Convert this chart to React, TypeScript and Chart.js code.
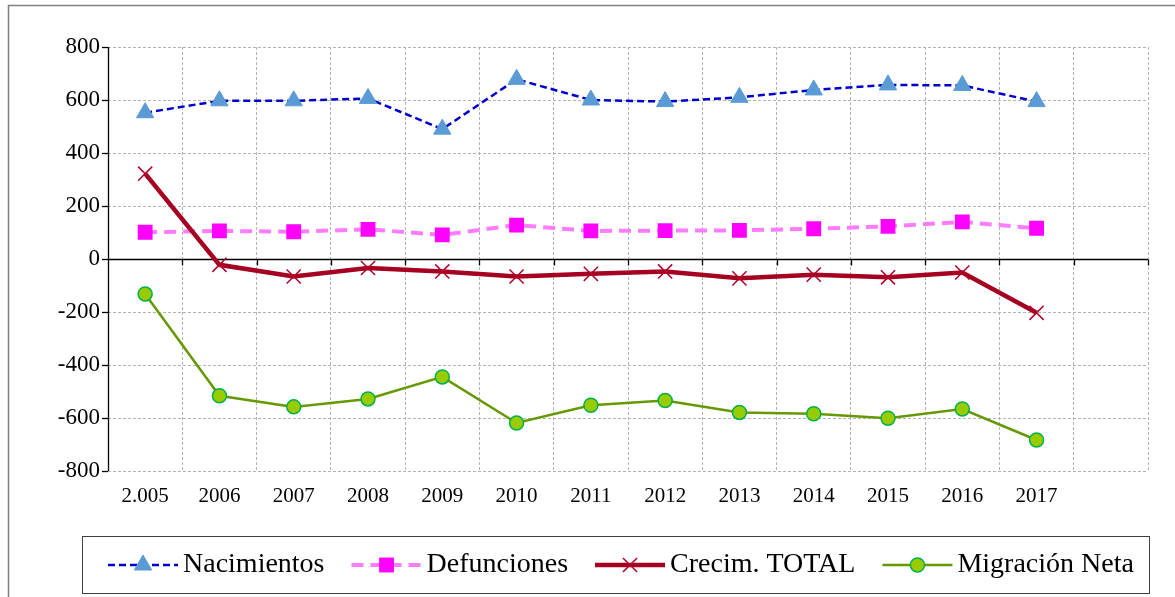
import React, { useEffect, useRef } from "react";
import { Chart, registerables } from "chart.js";
import { drawPoint } from "chart.js/helpers";

Chart.register(...registerables);

const years = ["2.005", "2006", "2007", "2008", "2009", "2010", "2011", "2012", "2013", "2014", "2015", "2016", "2017", ""];
const nacimientos = [552, 597, 597, 606, 490, 678, 600, 594, 610, 638, 657, 655, 594];
const defunciones = [101, 106, 103, 112, 91, 128, 106, 107, 108, 114, 123, 140, 116];
const crecimTotal = [322, -22, -66, -34, -47, -66, -56, -47, -73, -59, -69, -51, -203];
const migracionNeta = [-132, -516, -558, -528, -445, -619, -552, -534, -579, -584, -601, -566, -683];
const seriesNames = ["Nacimientos", "Defunciones", "Crecim. TOTAL", "Migración Neta"];
const yMin = -800;
const yMax = 800;
const yStep = 200;

const SERIF = '"Liberation Serif", "Times New Roman", serif';
const GRID = "#b3b3b3";

const decorPlugin = {
  id: "decor",
  beforeDatasetsDraw(chart: any) {
    const { ctx, chartArea: a, scales } = chart;
    const x = scales.x;
    const y = scales.y;
    const y0 = Math.round(y.getPixelForValue(0)) + 0.5;
    ctx.save();
    ctx.setLineDash([]);
    ctx.strokeStyle = "#000";
    ctx.lineWidth = 1.3;
    ctx.beginPath();
    ctx.moveTo(a.left, y0);
    ctx.lineTo(a.right, y0);
    const n = x.ticks.length;
    for (let i = 1; i <= n; i++) {
      const px = Math.round(x.getPixelForValue(i - 0.5)) + 0.5;
      ctx.moveTo(px, y0);
      ctx.lineTo(px, y0 + 6);
    }
    ctx.stroke();
    ctx.beginPath();
    const lx = Math.round(a.left) + 0.5;
    ctx.moveTo(lx, a.top);
    ctx.lineTo(lx, a.bottom);
    ctx.stroke();
    ctx.restore();
  },
  afterDraw(chart: any) {
    const ctx = chart.ctx;
    ctx.save();
    ctx.setLineDash([]);
    ctx.strokeStyle = "#808080";
    ctx.lineWidth = 1.5;
    ctx.strokeRect(8.5, 5.5, 1300, 700);
    ctx.strokeStyle = "#404040";
    ctx.lineWidth = 1;
    ctx.strokeRect(82.5, 536.5, 1067, 57);
    ctx.font = `28px ${SERIF}`;
    ctx.textBaseline = "middle";
    ctx.textAlign = "left";
    const cy = 565;
    let xp = 108;
    chart.data.datasets.forEach((ds: any) => {
      ctx.save();
      ctx.strokeStyle = ds.borderColor;
      ctx.lineWidth = ds.borderWidth;
      ctx.setLineDash(ds.borderDash || []);
      ctx.beginPath();
      ctx.moveTo(xp, cy);
      ctx.lineTo(xp + 70, cy);
      ctx.stroke();
      ctx.setLineDash([]);
      ctx.fillStyle = ds.pointBackgroundColor;
      ctx.strokeStyle = ds.pointBorderColor;
      ctx.lineWidth = ds.pointBorderWidth;
      drawPoint(ctx, { pointStyle: ds.pointStyle, radius: ds.pointRadius, rotation: 0, borderWidth: ds.pointBorderWidth }, xp + 35, cy);
      ctx.restore();
      ctx.fillStyle = "#000";
      const tx = xp + 75;
      ctx.fillText(ds.label, tx, cy);
      const w = ctx.measureText(ds.label).width;
      xp = tx + w + 27;
    });
    ctx.restore();
  },
};

export default function App() {
  const ref = useRef<HTMLCanvasElement | null>(null);
  useEffect(() => {
    if (!ref.current) return;
    const chart = new Chart(ref.current, {
      type: "line",
      data: {
        labels: years,
        datasets: [
          {
            label: seriesNames[0],
            data: nacimientos,
            borderColor: "#0000CC",
            borderWidth: 2.5,
            borderDash: [7, 4],
            pointStyle: "triangle",
            pointRadius: 10,
            pointBackgroundColor: "#5B9BD5",
            pointBorderColor: "#5B9BD5",
            pointBorderWidth: 1,
            order: 1,
          },
          {
            label: seriesNames[1],
            data: defunciones,
            borderColor: "#FF7CFF",
            borderWidth: 4,
            borderDash: [12, 7],
            pointStyle: "rect",
            pointRadius: 10.5,
            pointBackgroundColor: "#FF00FF",
            pointBorderColor: "#FF00FF",
            pointBorderWidth: 0,
            order: 1,
          },
          {
            label: seriesNames[2],
            data: crecimTotal,
            borderColor: "#A50021",
            borderWidth: 4.5,
            pointStyle: "crossRot",
            pointRadius: 10,
            pointBackgroundColor: "#B0002A",
            pointBorderColor: "#B0002A",
            pointBorderWidth: 1.5,
            order: 0,
          },
          {
            label: seriesNames[3],
            data: migracionNeta,
            borderColor: "#669900",
            borderWidth: 2.5,
            pointStyle: "circle",
            pointRadius: 7,
            pointBackgroundColor: "#99CC00",
            pointBorderColor: "#00B050",
            pointBorderWidth: 1.5,
            order: 1,
          },
        ],
      },
      options: {
        responsive: false,
        animation: false,
        layout: { padding: { left: 0, right: 27, top: 47, bottom: 0 } },
        plugins: { legend: { display: false }, tooltip: { enabled: false } },
        scales: {
          x: {
            type: "category",
            offset: true,
            afterFit: (s: any) => {
              s.height = 126;
            },
            grid: { display: true, offset: true, drawTicks: false, color: GRID, lineWidth: 1 },
            border: { display: false, dash: [3, 2] },
            ticks: { color: "#000", font: { family: SERIF, size: 21 }, padding: 13, maxRotation: 0, autoSkip: false },
          },
          y: {
            min: yMin,
            max: yMax,
            afterFit: (s: any) => {
              s.width = 108;
            },
            ticks: {
              stepSize: yStep,
              color: "#000",
              font: { family: SERIF, size: 23 },
              padding: 2,
              callback: (v: any) => String(v),
            },
            grid: { color: GRID, lineWidth: 1, drawTicks: true, tickLength: 6, tickColor: "#000", tickWidth: 1.3 },
            border: { display: false, dash: [3, 2] },
          },
        },
      },
      plugins: [decorPlugin],
    });
    return () => chart.destroy();
  }, []);
  return (
    <div style={{ position: "absolute", left: 0, top: 0, width: 1175, height: 597, background: "#fff" }}>
      <canvas ref={ref} width={1175} height={597} style={{ display: "block" }} />
    </div>
  );
}
